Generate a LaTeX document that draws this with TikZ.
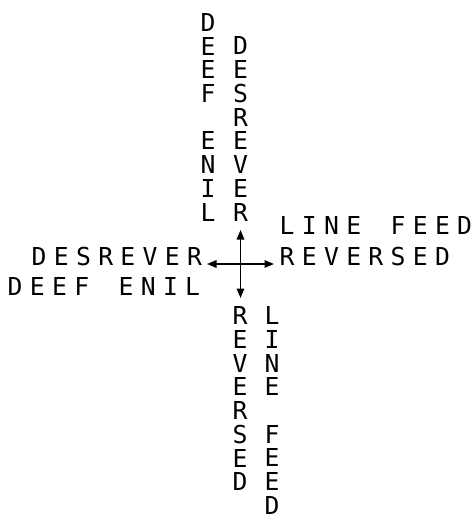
\documentclass[tikz,border=0pt]{standalone}
\usepackage{fontspec}
\newfontfamily\plotfont{DejaVu Sans Mono}
\usetikzlibrary{arrows.meta}
\newcommand\hword[1]{\hbox{\foreach \c in {#1}{\hbox to 22.2pt{\hss\c\hss}}}}
\newcommand\vword[1]{\vbox{\offinterlineskip\foreach \c in {#1}{\hbox to 20pt{\hss\rule{0pt}{23.7pt}\c\hss}}}}
\tikzset{
  lbl/.style={inner sep=0pt, outer sep=0pt, font=\plotfont\fontsize{24.7}{24.7}\selectfont},
  arr/.style={line width=1.5pt, -{Triangle[length=9.5pt,width=7.5pt]}}
}
\begin{document}
\begin{tikzpicture}[x=1pt,y=-1pt]
\path[use as bounding box] (0,0) rectangle (476,519);
% vertical columns above
\node[lbl, anchor=south] (c1) at (208,221) {\vword{D,E,E,F,{},E,N,I,L}};
\node[lbl, anchor=south] (c2) at (240.5,221) {\vword{D,E,S,R,E,V,E,R}};
% vertical columns below
\node[lbl, anchor=north] (c3) at (240,301) {\vword{R,E,V,E,R,S,E,D}};
\node[lbl, anchor=north] (c4) at (272,301) {\vword{L,I,N,E,{},F,E,E,D}};
% horizontal right
\node[lbl, anchor=base west] (r1) at (276,234) {\hword{L,I,N,E,{},F,E,E,D}};
\node[lbl, anchor=base west] (r2) at (276,265) {\hword{R,E,V,E,R,S,E,D}};
% horizontal left
\node[lbl, anchor=base west] (l1) at (28,265) {\hword{D,E,S,R,E,V,E,R}};
\node[lbl, anchor=base west] (l2) at (4,295) {\hword{D,E,E,F,{},E,N,I,L}};
% cross
\coordinate (o) at (240.5,264);
\coordinate (up) at (240.5,230);
\coordinate (dn) at (240.5,298);
\coordinate (lt) at (207,264);
\coordinate (rt) at (274,264);
\draw[arr] (o) -- (up);
\draw[arr] (o) -- (dn);
\draw[arr] (o) -- (lt);
\draw[arr] (o) -- (rt);
\end{tikzpicture}
\end{document}
